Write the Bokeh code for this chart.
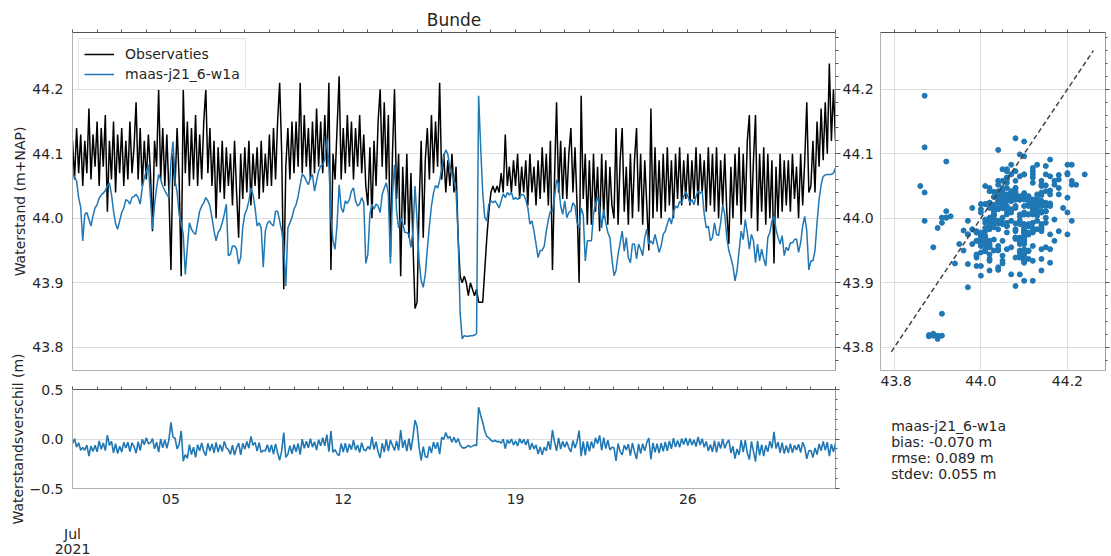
import math
import pandas as pd
from bokeh.plotting import figure
from bokeh.layouts import row, column
from bokeh.models import (Range1d, LinearAxis, SingleIntervalTicker, FixedTicker,
                          CustomJSTickFormatter, PrintfTickFormatter, Legend, LegendItem, Grid)
from bokeh.core.properties import value
from bokeh.embed import file_html
from bokeh.resources import INLINE

# ---------------- data ----------------
chart_title = "Bunde"
obs_name = "Observaties"
model_name = "maas-j21_6-w1a"
main_ylabel = "Waterstand (m+NAP)"
resid_ylabel = "Waterstandsverschil (m)"
series_start = "2021-07-01 00:00"
series_step = "2h"

# observed water level (m+NAP), 2-hourly, 1 Jul 2021 .. 1 Aug 2021
observed = [
    44.12, 44.06, 44.14, 44.07, 44.13, 44.05, 44.12, 44.07, 44.17, 44.06, 44.13, 44.08,
    44.15, 44.05, 44.14, 44.08, 44.16, 44.01, 44.12, 44.06, 44.15, 44.04, 44.13, 44.07,
    44.14, 44.05, 44.12, 44.06, 44.15, 44.07, 44.11, 44.18, 44.06, 44.14, 44.05, 44.12,
    44.06, 44.13, 44.07, 43.98, 44.12, 44.08, 44.20, 44.06, 44.14, 44.05, 44.13, 44.04,
    43.92, 44.10, 44.05, 44.14, 44.06, 43.91, 44.20, 44.07, 44.15, 44.05, 44.14, 44.06,
    44.16, 44.05, 44.13, 44.06, 44.15, 44.20, 44.07, 44.14, 44.05, 44.12, 44.00, 44.11,
    44.04, 44.12, 44.03, 44.11, 44.05, 44.10, 44.02, 44.12, 44.04, 43.97, 44.10, 44.03,
    44.11, 44.04, 44.12, 44.02, 44.10, 44.05, 44.11, 44.03, 44.12, 44.04, 44.10, 44.05,
    44.13, 44.05, 44.14, 44.06, 44.15, 44.21, 44.10, 43.89, 44.08, 44.14, 44.06, 44.15,
    44.07, 44.15, 44.08, 44.21, 44.07, 44.16, 44.08, 44.14, 44.06, 44.15, 44.07, 44.17,
    44.08, 44.15, 44.07, 44.16, 44.08, 44.21, 43.92, 44.10, 44.06, 44.14, 44.22, 44.06,
    44.14, 44.07, 44.16, 44.08, 44.15, 44.06, 44.14, 44.08, 44.16, 44.07, 44.13, 44.05,
    44.02, 44.11, 44.00, 44.12, 44.05, 44.15, 44.20, 44.08, 44.18, 44.06, 44.16, 43.94,
    44.10, 44.20, 44.03, 44.10, 43.91, 44.08, 43.99, 44.10, 43.97, 44.07, 43.96, 43.86,
    43.87, 44.02, 44.12, 43.97, 44.09, 44.14, 44.06, 44.16, 44.07, 44.15, 44.08, 44.21,
    44.06, 44.10, 44.04, 44.09, 44.05, 44.10, 44.04, 44.08, 43.97, 43.91, 43.90, 43.91,
    43.90, 43.88, 43.90, 43.89, 43.88, 43.89, 43.87, 43.87, 43.87, 43.92, 43.97, 44.01,
    44.04, 44.05, 44.04, 44.05, 44.04, 44.07, 44.04, 44.13, 44.05, 44.08, 44.04, 44.09,
    44.05, 44.10, 44.03, 44.08, 44.04, 44.09, 44.02, 44.10, 44.04, 44.08, 44.02, 44.09,
    44.03, 44.11, 44.04, 44.10, 44.02, 44.12, 43.92, 44.06, 44.18, 44.04, 44.12, 44.03,
    44.11, 44.03, 44.10, 44.14, 44.04, 44.11, 44.02, 43.90, 44.19, 44.03, 44.10, 43.99,
    44.09, 43.99, 44.10, 44.01, 44.08, 43.98, 44.10, 44.00, 44.09, 43.99, 44.08, 44.02,
    44.00, 44.14, 43.99, 44.09, 44.14, 44.01, 44.08, 43.99, 44.10, 44.00, 44.09, 44.14,
    44.01, 44.10, 43.99, 44.09, 44.02, 43.95, 44.17, 44.00, 44.11, 44.01, 44.09, 44.00,
    44.10, 44.01, 44.11, 44.02, 44.09, 44.00, 44.10, 44.03, 44.11, 44.02, 44.09, 44.03,
    44.10, 44.02, 44.09, 44.03, 44.11, 44.02, 44.10, 44.04, 44.09, 44.01, 44.11, 44.02,
    44.10, 44.01, 44.11, 44.00, 44.09, 44.02, 44.10, 44.01, 43.96, 44.08, 44.00, 44.10,
    44.02, 44.11, 43.99, 44.10, 44.01, 44.12, 44.16, 44.00, 44.09, 44.16, 43.98, 44.10,
    44.01, 44.11, 43.99, 44.10, 44.00, 44.09, 43.93, 44.08, 44.00, 44.10, 44.01, 44.09,
    44.02, 44.09, 44.01, 44.10, 44.03, 44.08, 44.00, 44.10, 44.02, 44.09, 44.18, 44.04,
    44.05, 44.12, 44.04, 44.15, 44.08, 44.17, 44.09, 44.18, 44.10, 44.24, 44.12, 44.20,
    44.12,
]

# modelled water level (m+NAP), same timestamps
modelled = [
    44.073, 44.063, 44.058, 44.032, 44.017, 43.965, 44.006, 44.009, 43.998, 43.988, 44.004, 44.016,
    44.021, 44.031, 44.036, 44.039, 44.043, 44.050, 44.055, 44.037, 44.011, 43.992, 43.983, 43.996,
    44.009, 44.016, 44.029, 44.027, 44.022, 44.032, 44.034, 44.037, 44.032, 44.022, 44.047, 44.063,
    44.073, 44.083, 44.032, 43.983, 44.021, 44.047, 44.068, 44.060, 44.050, 44.043, 44.037, 44.032,
    44.088, 44.119, 44.058, 44.040, 44.006, 43.993, 43.975, 43.913, 43.955, 43.993, 43.983, 43.978,
    43.975, 43.993, 44.011, 44.019, 44.024, 44.032, 44.027, 44.019, 44.001, 43.980, 43.965, 43.978,
    43.983, 43.993, 44.006, 44.022, 43.942, 43.944, 43.957, 43.957, 43.952, 43.929, 43.939, 43.986,
    44.006, 44.014, 44.027, 44.047, 44.037, 44.016, 43.988, 43.993, 43.985, 43.924, 43.980, 43.992,
    43.996, 43.991, 43.988, 44.011, 44.011, 43.996, 43.980, 43.955, 43.895, 43.985, 43.993, 44.001,
    44.014, 44.021, 44.034, 44.052, 44.068, 44.065, 44.058, 44.052, 44.063, 44.068, 44.042, 44.058,
    44.073, 44.081, 44.083, 44.091, 44.124, 44.083, 44.001, 43.965, 43.952, 43.991, 44.052, 44.016,
    44.009, 44.027, 44.023, 44.029, 44.042, 44.047, 44.027, 44.019, 44.022, 44.032, 44.024, 43.930,
    43.944, 44.006, 44.022, 44.014, 44.022, 44.019, 44.009, 44.037, 44.047, 44.055, 44.037, 43.930,
    44.037, 44.083, 44.011, 43.985, 44.001, 43.992, 43.978, 43.978, 43.975, 43.955, 43.981, 44.050,
    43.996, 43.934, 43.903, 43.893, 43.913, 43.952, 43.988, 44.019, 44.039, 44.051, 44.047, 44.058,
    44.076, 44.096, 44.106, 44.099, 44.076, 44.068, 44.058, 44.042, 43.975, 43.852, 43.813, 43.818,
    43.817, 43.817, 43.818, 43.818, 43.819, 43.821, 44.190, 44.110, 44.040, 44.001, 43.996, 44.022,
    44.027, 44.024, 44.027, 44.022, 44.016, 44.027, 44.038, 44.032, 44.040, 44.036, 44.040, 44.029,
    44.032, 44.029, 44.033, 44.037, 44.036, 44.029, 44.016, 43.991, 43.996, 43.980, 43.960, 43.939,
    43.950, 43.950, 43.957, 43.980, 43.998, 44.011, 44.011, 44.032, 44.060, 44.052, 44.019, 44.006,
    44.027, 44.001, 44.009, 44.011, 44.024, 44.019, 43.993, 43.985, 44.016, 44.006, 43.934, 43.965,
    43.965, 43.965, 44.006, 44.022, 44.033, 44.016, 43.985, 44.014, 43.993, 43.978, 43.970, 43.937,
    43.911, 43.919, 43.944, 43.962, 43.980, 43.949, 43.970, 43.939, 43.931, 43.960, 43.960, 43.937,
    43.960, 43.952, 43.942, 43.970, 43.983, 43.960, 43.965, 43.960, 43.975, 43.962, 43.947, 43.957,
    43.975, 43.980, 43.991, 44.001, 43.991, 44.009, 44.019, 44.016, 44.026, 44.024, 44.034, 44.041,
    44.034, 44.024, 44.029, 44.021, 44.034, 44.042, 44.039, 44.042, 44.006, 43.985, 43.988, 43.965,
    43.970, 43.993, 43.975, 43.973, 43.993, 44.021, 44.006, 43.970, 43.950, 43.939, 43.926, 43.903,
    43.919, 43.949, 43.980, 43.967, 43.998, 43.978, 43.952, 43.975, 43.965, 43.931, 43.960, 43.934,
    43.952, 43.937, 43.926, 43.970, 43.978, 43.996, 44.003, 43.983, 43.970, 43.960, 43.973, 43.942,
    43.955, 43.950, 43.962, 43.962, 43.967, 43.968, 43.947, 43.962, 43.988, 44.003, 43.980, 43.920,
    43.934, 43.934, 43.950, 43.993, 44.029, 44.052, 44.065, 44.067, 44.068, 44.068, 44.068, 44.070,
    44.078,
]

# x tick labels of the residual panel
week_tick_days = ["2021-07-05", "2021-07-12", "2021-07-19", "2021-07-26"]
week_tick_labels = ["05", "12", "19", "26"]
month_tick_day = "2021-07-01"
month_label = "Jul"
year_label = "2021"

# statistics text
stat_names = ["bias", "rmse", "stdev"]
stat_values = [-0.070, 0.089, 0.055]

# ---------------- derived ----------------
times = pd.date_range(series_start, periods=len(observed), freq=series_step)
residual = [m - o for m, o in zip(modelled, observed)]
diag_lo = min(min(observed), min(modelled)) - 0.02
diag_hi = max(max(observed), max(modelled)) + 0.02


def ms(ts):
    return pd.Timestamp(ts).value / 1e6


t0 = pd.Timestamp("2021-07-01")
t1 = pd.Timestamp("2021-08-01")
day_ticks = [ms(t0 + pd.Timedelta(days=i)) for i in range(32)]
week_ticks = [ms(d) for d in week_tick_days]
month_ticks = [ms(month_tick_day)]

# ---------------- style ----------------
FONT = "DejaVu Sans"
FS = "14px"
TXT = "#262626"
BLUE = "#1f77b4"
GRID = "#dedede"
SPINE = "#b0b0b0"
DARK = "#555555"
H = 556

xr = Range1d(start=ms(t0), end=ms(t1))
yr = Range1d(start=43.764, end=44.288)


def blank():
    return CustomJSTickFormatter(code="return '';")


def fixed_labels(vals, texts):
    return CustomJSTickFormatter(args=dict(tick_vals=vals, tick_texts=texts),
                                 code="const i = tick_vals.indexOf(tick); return i >= 0 ? tick_texts[i] : '';")


def style_labels(ax):
    ax.major_label_text_font = FONT
    ax.major_label_text_font_size = FS
    ax.major_label_text_color = TXT


def tick_axis(ticker, line_color, major_out=3, minor_out=0):
    ax = LinearAxis(ticker=ticker, formatter=blank())
    ax.major_label_text_font_size = "0px"
    ax.major_label_standoff = 0
    ax.major_tick_in = 0
    ax.minor_tick_in = 0
    ax.major_tick_out = major_out
    ax.minor_tick_out = minor_out
    ax.major_tick_line_color = DARK
    ax.minor_tick_line_color = DARK
    ax.axis_line_color = line_color
    return ax


def no_ticks(ax):
    ax.major_tick_out = 0
    ax.major_tick_in = 0
    ax.minor_tick_out = 0
    ax.minor_tick_in = 0


def base_fig(**kw):
    f = figure(output_backend="svg", toolbar_location=None, **kw)
    f.background_fill_color = "white"
    f.border_fill_color = "white"
    f.outline_line_color = SPINE
    f.outline_line_width = 1
    return f


# ---------------- y-axis titles (own strip so they are not clipped) ----------------
pl = base_fig(width=26, height=H, x_range=Range1d(0, 26), y_range=Range1d(0, H),
              x_axis_location=None, y_axis_location=None, min_border=0)
pl.outline_line_color = None
pl.xgrid.visible = False
pl.ygrid.visible = False
pl.text(x=[19, 17.5], y=[H - 201, H - 438.5], text=[main_ylabel, resid_ylabel],
        angle=math.pi / 2, text_font=value(FONT), text_font_size=FS, text_color=TXT,
        text_align="center", text_baseline="middle")

# ---------------- main time series ----------------
p = base_fig(frame_width=763, frame_height=338, x_range=xr, y_range=yr,
             x_axis_location=None, min_border_left=46, min_border_right=45,
             min_border_top=32, min_border_bottom=10, title=chart_title)
p.title.align = "center"
p.title.text_font = FONT
p.title.text_font_size = "17px"
p.title.text_font_style = "normal"
p.title.text_color = TXT
p.title.standoff = 0

ya = p.yaxis[0]
ya.ticker = SingleIntervalTicker(interval=0.1, num_minor_ticks=0)
ya.formatter = PrintfTickFormatter(format="%.1f")
no_ticks(ya)
ya.axis_line_color = SPINE
ya.major_label_standoff = 9
style_labels(ya)

ra = LinearAxis(ticker=SingleIntervalTicker(interval=0.1, num_minor_ticks=5),
                formatter=PrintfTickFormatter(format="%.1f"))
ra.major_tick_out = 5
ra.major_tick_in = 0
ra.minor_tick_out = 3
ra.minor_tick_in = 0
ra.major_tick_line_color = DARK
ra.minor_tick_line_color = DARK
ra.axis_line_color = "#999999"
ra.major_label_standoff = 2
style_labels(ra)
p.add_layout(ra, "right")

p.add_layout(tick_axis(FixedTicker(ticks=day_ticks), DARK), "above")

p.xgrid.visible = False
p.ygrid.grid_line_color = GRID
p.ygrid.grid_line_width = 1

r_obs = p.line(times, observed, line_color="black", line_width=1.5)
r_mod = p.line(times, modelled, line_color=BLUE, line_width=1.5)

legend = Legend(items=[LegendItem(label=obs_name, renderers=[r_obs]),
                       LegendItem(label=model_name, renderers=[r_mod])],
                location="top_left")
legend.margin = 6
legend.padding = 5
legend.spacing = 0
legend.glyph_width = 30
legend.glyph_height = 20
legend.label_height = 20
legend.label_standoff = 11
legend.label_text_font = FONT
legend.label_text_font_size = FS
legend.label_text_color = TXT
legend.border_line_color = "#cccccc"
legend.background_fill_alpha = 0.85
p.add_layout(legend)

# ---------------- residual panel ----------------
pr = base_fig(frame_width=763, frame_height=99, x_range=xr, y_range=Range1d(-0.5, 0.5),
              x_axis_type="datetime", min_border_left=46, min_border_right=45,
              min_border_top=9, min_border_bottom=68)
xa = pr.xaxis[0]
xa.ticker = FixedTicker(ticks=week_ticks)
xa.formatter = fixed_labels(week_ticks, week_tick_labels)
no_ticks(xa)
xa.axis_line_color = SPINE
xa.major_label_standoff = 5
style_labels(xa)

# month / year labels stacked below the day labels
for text, standoff in ((month_label, 19), (year_label, -1)):
    ax = LinearAxis(ticker=FixedTicker(ticks=month_ticks),
                    formatter=fixed_labels(month_ticks, [text]))
    no_ticks(ax)
    ax.axis_line_color = None
    ax.major_label_standoff = standoff
    style_labels(ax)
    pr.add_layout(ax, "below")

rya = pr.yaxis[0]
rya.ticker = SingleIntervalTicker(interval=0.5, num_minor_ticks=0)
rya.formatter = CustomJSTickFormatter(code="return tick.toFixed(1).replace('-', '\u2212');")
no_ticks(rya)
rya.axis_line_color = SPINE
rya.major_label_standoff = 9
style_labels(rya)

pr.add_layout(tick_axis(SingleIntervalTicker(interval=0.5, num_minor_ticks=5), "#999999",
                        major_out=4, minor_out=2), "right")
pr.add_layout(tick_axis(FixedTicker(ticks=day_ticks), DARK), "above")
pr.xgrid.visible = False
pr.ygrid.ticker = SingleIntervalTicker(interval=0.5)
pr.ygrid.grid_line_color = GRID
pr.line(times, residual, line_color=BLUE, line_width=1.6)

# ---------------- scatter panel ----------------
ps = base_fig(frame_width=225, frame_height=338, x_range=Range1d(43.768, 44.288), y_range=yr,
              y_axis_location=None, min_border_left=0, min_border_right=6,
              min_border_top=32, min_border_bottom=24)
sxa = ps.xaxis[0]
sxa.ticker = SingleIntervalTicker(interval=0.2, num_minor_ticks=0)
sxa.formatter = PrintfTickFormatter(format="%.1f")
no_ticks(sxa)
sxa.axis_line_color = SPINE
sxa.major_label_standoff = 5
style_labels(sxa)
ps.xgrid.visible = False
ps.ygrid.visible = False
ps.add_layout(Grid(dimension=0, ticker=SingleIntervalTicker(interval=0.2),
                   grid_line_color=GRID))
ps.add_layout(Grid(dimension=1, ticker=SingleIntervalTicker(interval=0.1),
                   grid_line_color=GRID))
ps.add_layout(tick_axis(SingleIntervalTicker(interval=0.05, num_minor_ticks=0), DARK), "above")
ps.add_layout(tick_axis(SingleIntervalTicker(interval=0.1, num_minor_ticks=5), "#999999",
                        major_out=4, minor_out=2), "right")

ps.scatter(observed, modelled, size=5, fill_color=BLUE, line_color=BLUE)
ps.line([diag_lo, diag_hi], [diag_lo, diag_hi], line_color="#444444", line_width=1.5,
        line_dash="5 3")

# ---------------- statistics text ----------------
pt = base_fig(width=231, height=162, x_range=Range1d(0, 231), y_range=Range1d(0, 162),
              x_axis_location=None, y_axis_location=None, min_border=0)
pt.outline_line_color = None
pt.xgrid.visible = False
pt.ygrid.visible = False
stat_lines = [model_name] + [f"{n}: {v:.3f} m" for n, v in zip(stat_names, stat_values)]
pt.text(x=[11] * len(stat_lines), y=[162 - 31 - 16.2 * i for i in range(len(stat_lines))],
        text=stat_lines, text_font=value(FONT), text_font_size=FS,
        text_color=TXT, text_baseline="middle", text_align="left")

layout = row(pl, column(p, pr), column(ps, pt))
open("out.html", "w").write(file_html(layout, INLINE))
